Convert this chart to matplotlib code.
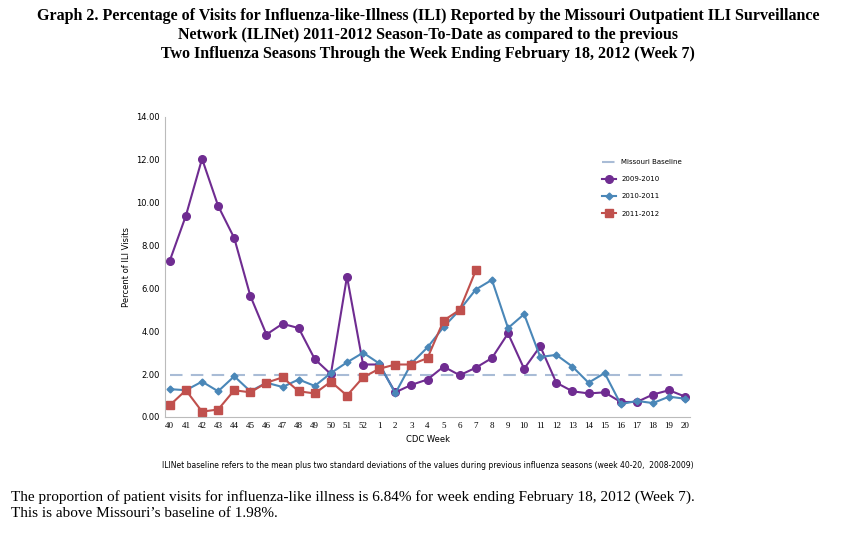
import matplotlib.pyplot as plt
import numpy as np

WEEKS = ["40", "41", "42", "43", "44", "45", "46", "47", "48", "49", "50", "51", "52",
         "1", "2", "3", "4", "5", "6", "7", "8", "9", "10", "11", "12", "13", "14",
         "15", "16", "17", "18", "19", "20"]
S_0910 = [7.3, 9.4, 12.05, 9.85, 8.35, 5.65, 3.85, 4.35, 4.15, 2.7, 2.0, 6.55, 2.45,
          2.45, 1.15, 1.5, 1.75, 2.35, 1.95, 2.3, 2.75, 3.9, 2.25, 3.3, 1.6, 1.2, 1.1,
          1.15, 0.7, 0.7, 1.05, 1.25, 0.95]
S_1011 = [1.3, 1.25, 1.65, 1.2, 1.9, 1.2, 1.6, 1.4, 1.75, 1.45, 2.05, 2.55, 3.0,
          2.5, 1.1, 2.5, 3.25, 4.2, 5.0, 5.95, 6.4, 4.15, 4.8, 2.8, 2.9, 2.35, 1.6,
          2.05, 0.6, 0.75, 0.65, 0.95, 0.85]
S_1112 = [0.55, 1.25, 0.25, 0.35, 1.25, 1.15, 1.6, 1.85, 1.2, 1.1, 1.65, 1.0, 1.85,
          2.25, 2.45, 2.45, 2.75, 4.5, 5.0, 6.84]
BASELINE = 1.98

TITLE = ("Graph 2. Percentage of Visits for Influenza-like-Illness (ILI) Reported by the Missouri Outpatient ILI Surveillance\n"
         "Network (ILINet) 2011-2012 Season-To-Date as compared to the previous\n"
         "Two Influenza Seasons Through the Week Ending February 18, 2012 (Week 7)")
NOTE = ("ILINet baseline refers to the mean plus two standard deviations of the values during "
        "previous influenza seasons (week 40-20,  2008-2009)")
FOOT = ("The proportion of patient visits for influenza-like illness is 6.84% for week ending February 18, 2012 (Week 7).\n"
        "This is above Missouri\u2019s baseline of 1.98%.")

fig = plt.figure(figsize=(8.56, 5.33), dpi=100)
ax = fig.add_axes([165 / 856, 1 - 417 / 533, 525 / 856, 300 / 533])

x = np.arange(len(WEEKS))
ax.plot(x, [BASELINE] * len(WEEKS), color="#a9bcd6", lw=1.5, ls=(0, (6, 4)), label="Missouri Baseline")
ax.plot(x, S_0910, color="#6f2c91", lw=1.5, marker="o", ms=5.5, label="2009-2010")
ax.plot(x, S_1011, color="#4a87b8", lw=1.5, marker="D", ms=3.5, label="2010-2011")
ax.plot(np.arange(len(S_1112)), S_1112, color="#c0504d", lw=1.5, marker="s", ms=5.5, label="2011-2012")

ax.set_xlim(-0.3, len(WEEKS) - 0.7)
ax.set_ylim(0, 14)
ax.set_yticks(np.arange(0, 14.01, 2))
ax.set_yticklabels([f"{v:.2f}" for v in np.arange(0, 14.01, 2)], fontsize=6)
ax.set_xticks(x)
ax.set_xticklabels(WEEKS, fontsize=6.5, family="Liberation Serif")
ax.tick_params(length=0)
ax.set_xlabel("CDC Week", fontsize=6)
ax.set_ylabel("Percent of ILI Visits", fontsize=6)
for side in ["top", "right"]:
    ax.spines[side].set_visible(False)
for side in ["left", "bottom"]:
    ax.spines[side].set_color("#bbbbbb")

ax.legend(loc="upper left", bbox_to_anchor=(0.82, 0.88), fontsize=5, frameon=False,
          handlelength=2, labelspacing=1.6)

fig.text(0.5, 0.985, TITLE, ha="center", va="top", fontsize=11.5, weight="bold",
         family="Liberation Serif", linespacing=1.25)
fig.text(0.5, 1 - 466 / 533, NOTE, ha="center", va="center", fontsize=5.5)
fig.text(0.013, 1 - 490 / 533, FOOT, ha="left", va="top", fontsize=11,
         family="Liberation Serif", linespacing=1.3)

fig.savefig("out.png", dpi=100)
